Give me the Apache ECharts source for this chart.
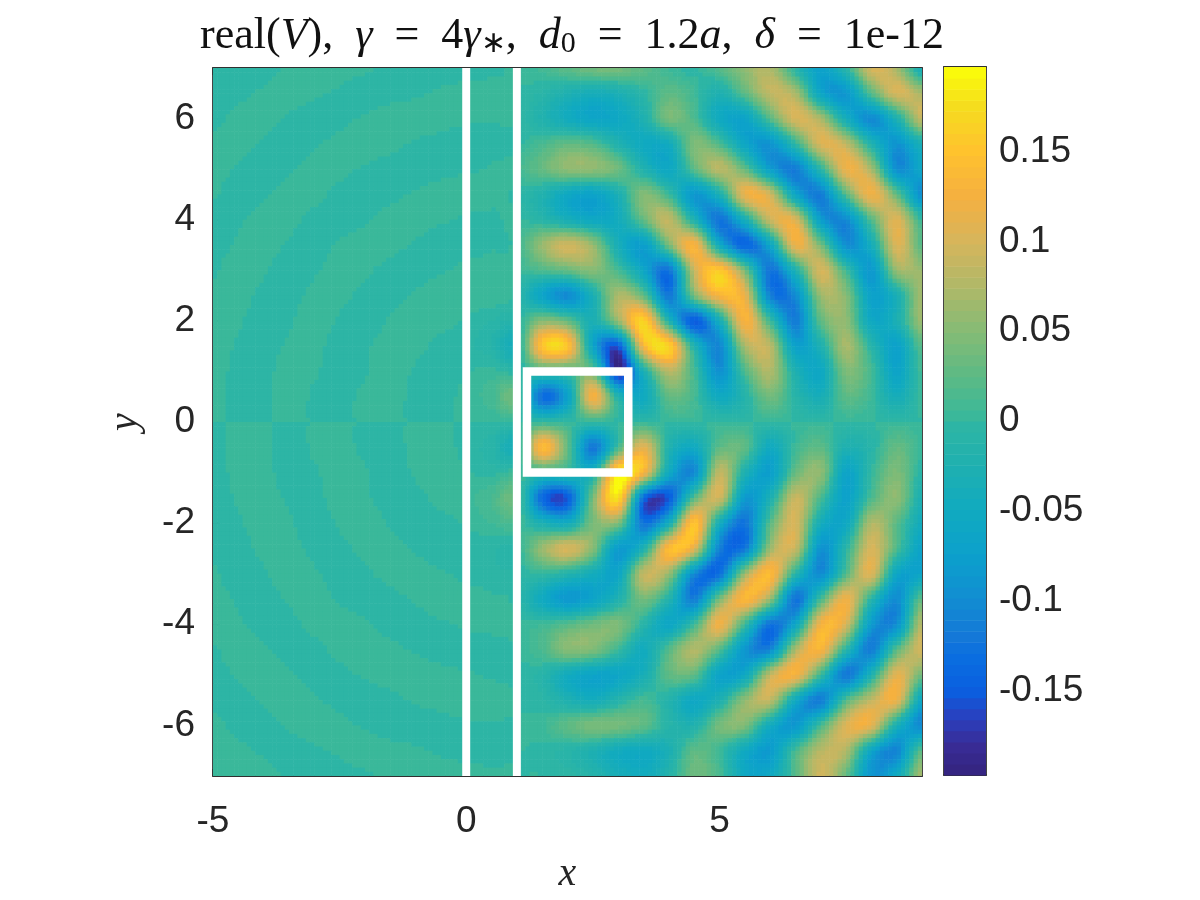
<!DOCTYPE html>
<html><head><meta charset="utf-8">
<style>html,body{margin:0;background:#fff}#c{width:1200px;height:900px}</style>
<script src="https://cdn.jsdelivr.net/npm/echarts@6/dist/echarts.min.js"></script>
</head><body><div id="c"></div>
<script>
// Field values, in thousandths
const xNodes=[-5,-4.5,-4,-3.5,-3,-2.5,-2,-1.5,-1,-0.5,0,0.5,1,1.5,2,2.5,3,3.5,4,4.5,5,5.5,6,6.5,7,7.5,8,8.5,9];
const yNodes=[7,6.5,6,5.5,5,4.5,4,3.5,3,2.5,2,1.5,1,0.5,0,-0.5,-1,-1.5,-2,-2.5,-3,-3.5,-4,-4.5,-5,-5.5,-6,-6.5,-7];
const rowP70=[-5,-5,-3,1,3,3,1,-2,-3,-4,-2,-2,2,8,25,40,42,25,5,-3,20,55,75,-10,-70,-10,100,70,-40];
const rowP65=[-5,-2,1,3,1,-1,-4,-2,-1,1,2,3,0,-8,-25,-38,-30,-5,25,8,-25,25,85,70,-60,-85,20,100,70];
const rowP60=[-2,2,3,-1,-3,-2,1,3,4,2,1,1,0,-20,-45,-62,-55,-25,40,15,-50,-65,20,100,70,-40,-100,-25,90];
const rowP55=[2,3,-1,-4,-1,2,4,2,-1,-2,-4,-4,-2,12,28,18,-20,-50,-45,45,15,-60,-90,-5,100,85,-20,-90,-30];
const rowP50=[3,-1,-4,-1,3,2,-1,-3,-4,-2,-1,1,8,30,55,55,35,-20,-55,20,80,30,-75,-115,-10,115,70,-95,-60];
const rowP45=[1,-4,-1,3,2,-2,-4,-2,1,3,4,3,-3,-20,-55,-68,-30,48,5,-85,-30,115,95,-60,-115,20,120,30,-100];
const rowP40=[-3,-1,3,2,-2,-4,-1,3,3,1,-1,-2,2,-10,-35,-55,-45,30,85,-25,-125,-35,90,105,-75,-100,20,105,0];
const rowP35=[-3,1,3,-1,-4,1,3,2,-1,-4,-3,-1,5,60,95,60,-35,-75,40,130,-50,-140,-60,115,40,-95,-40,105,20];
const rowP30=[-1,4,1,-4,-1,3,1,-2,-3,-1,2,4,3,15,30,50,10,-60,-125,90,155,40,-125,-25,100,5,-85,60,60];
const rowP25=[1,3,-2,-3,2,2,-2,-3,1,4,3,5,-5,-65,-100,-30,70,30,-120,40,130,115,-110,-100,60,50,-70,-30,70];
const rowP20=[3,1,-4,-1,4,-1,-4,1,4,2,-1,-6,-10,50,30,-30,60,165,-20,-150,-40,130,5,-115,25,55,-55,-30,65];
const rowP15=[4,-1,-3,1,2,-3,-1,3,2,-2,-4,-12,-28,150,150,-60,-150,130,165,-20,-105,70,80,-70,-25,70,-10,-70,25];
const rowP10=[3,-2,-2,3,1,-4,-1,4,-1,-5,-1,3,-5,5,10,35,-185,-30,80,10,-95,15,75,-25,-55,45,10,-65,10];
const rowP05=[3,-2,-2,3,-1,-3,2,3,-2,-3,3,10,28,-130,-70,125,-20,-50,30,10,-50,-15,40,-10,-35,25,5,-40,5];
const rowZ00=[0,0,0,0,0,0,0,0,0,0,0,0,0,0,0,0,0,0,0,0,0,0,0,0,0,0,0,0,0];
const rowN05=[-3,2,2,-3,1,3,-2,-3,2,3,-3,-10,-28,140,30,-120,10,110,-20,-50,25,25,-50,5,25,-25,-10,30,3];
const rowN10=[-3,2,2,-3,-1,4,1,-4,1,5,1,-3,5,-5,-10,-30,185,130,-50,-100,85,-25,-75,30,55,-65,0,45,-10];
const rowN15=[-4,1,3,-1,-2,3,1,-3,-2,2,4,12,25,-135,-150,40,175,-130,-150,20,95,-80,-30,90,15,-70,15,55,-30];
const rowN20=[-3,-1,4,1,-4,1,4,-1,-4,-2,1,6,12,-30,-45,40,45,-125,-40,150,-40,-125,20,100,-40,-55,75,25,-45];
const rowN25=[-1,-3,2,3,-2,-2,2,3,-1,-4,-3,-5,-5,60,100,50,-80,-25,140,110,-110,-120,60,90,-90,-10,100,15,-70];
const rowN30=[1,-4,-1,4,1,-3,-1,2,3,1,-2,-4,-5,0,-15,-40,-60,85,60,-100,-130,60,140,-10,-100,20,105,-60,-65];
const rowN35=[3,-1,-3,1,4,-1,-3,-2,1,4,3,1,-5,-50,-85,-65,-25,40,-15,-115,40,135,60,-125,10,120,-10,-100,30];
const rowN40=[3,1,-3,-2,2,4,1,-3,-3,-1,1,2,3,5,20,35,45,-10,-60,5,120,5,-125,-60,125,100,-80,-95,85];
const rowN45=[-1,4,1,-3,-2,2,4,2,-1,-3,-4,-3,0,15,50,45,5,-45,20,75,20,-85,-105,70,130,-10,-115,20,100];
const rowN50=[-3,1,4,1,-3,-2,1,3,4,2,1,-1,-2,-10,-45,-65,-60,-35,25,25,-65,-55,85,125,5,-120,-25,110,35];
const rowN55=[-2,-3,1,4,1,-2,-4,-2,1,2,4,4,0,-5,-25,-40,-15,10,-15,-55,-25,55,85,-50,-115,15,85,115,-60];
const rowN60=[2,-2,-3,1,3,2,-1,-3,-4,-2,-1,-1,0,5,25,42,40,25,-10,-20,40,45,-45,-85,10,105,110,-30,-105];
const rowN65=[5,2,-1,-3,-1,1,4,2,1,-1,-2,-3,0,-2,-10,-25,-45,-50,-30,25,5,-50,-80,10,80,75,-60,-105,25];
const rowN70=[5,5,3,-1,-3,-3,-1,2,3,4,2,2,0,0,-3,-15,-35,-45,-15,35,15,-55,-55,20,95,30,-90,-50,70];
const fieldRows=[rowP70,rowP65,rowP60,rowP55,rowP50,rowP45,rowP40,rowP35,rowP30,rowP25,rowP20,rowP15,rowP10,rowP05,rowZ00,rowN05,rowN10,rowN15,rowN20,rowN25,rowN30,rowN35,rowN40,rowN45,rowN50,rowN55,rowN60,rowN65,rowN70];

const xTicks=[-5,0,5];
const yTicks=[-6,-4,-2,0,2,4,6];
const barTicks=[-0.15,-0.1,-0.05,0,0.05,0.1,0.15];
const wallX=[0,1];
const wallY=[-7,7];
const boxX=[1.2,3.2,3.2,1.2,1.2];
const boxY=[1,1,-1,-1,1];
const valueMin=-197, valueMax=197, levels=64;

// colour map, sampled from the reference colour bar
const mapStops=[[-197,'#34247d'],[-180,'#382c96'],[-165,'#2a3fbe'],[-150,'#0a5fe0'],[-130,'#0a6fe0'],[-120,'#1478d8'],[-100,'#128cd2'],[-75,'#0ca0cc'],[-50,'#10aac0'],[-25,'#1fb0b0'],[-3,'#2db5a5'],[3,'#3ab89a'],[25,'#5cba85'],[50,'#85bb75'],[75,'#b0b868'],[100,'#d6b55c'],[125,'#f5b040'],[150,'#ffc22e'],[175,'#f5dc1e'],[197,'#fbff08']];
function hex(c){return [1,3,5].map(i=>parseInt(c.substr(i,2),16));}
function mapColor(v){
  for(let k=0;k<mapStops.length-1;k++){
    const a=mapStops[k],b=mapStops[k+1];
    if(v<=b[0]){
      const t=Math.max(0,(v-a[0])/(b[0]-a[0])),p=hex(a[1]),q=hex(b[1]);
      return 'rgb('+p.map((u,n)=>Math.round(u+(q[n]-u)*t)).join(',')+')';
    }
  }
  return mapStops[mapStops.length-1][1];
}
const levelStep=(valueMax-valueMin)/levels;
const palette=[];
for(let i=0;i<levels;i++)palette.push(mapColor(valueMin+(i+0.5)*levelStep));
function levelOf(v){return Math.max(0,Math.min(levels-1,Math.floor((v-valueMin)/levelStep)));}

const fieldData=[];
yNodes.forEach((y,j)=>xNodes.forEach((x,i)=>fieldData.push([x,y,fieldRows[j][i],i,j])));
const barData=palette.map((c,i)=>[0,(valueMin+i*levelStep)/1000,i]);

// smooth shading of each read cell, as the source plot was shaded
const shade=6;
function cr(t){const t2=t*t,t3=t2*t;return [-0.5*t3+t2-0.5*t,1.5*t3-2.5*t2+1,-1.5*t3+2*t2+0.5*t,0.5*t3-0.5*t2];}
const weights=[];for(let m=0;m<shade;m++)weights.push(cr((m+0.5)/shade));
function at(j,i){return fieldRows[Math.max(0,Math.min(yNodes.length-1,j))][Math.max(0,Math.min(xNodes.length-1,i))];}
function renderField(params,api){
  const i=api.value(3),j=api.value(4);
  if(i>=xNodes.length-1||j>=yNodes.length-1)return null;
  const x0=xNodes[i],x1=xNodes[i+1],y0=yNodes[j],y1=yNodes[j+1];
  const children=[];
  for(let m=0;m<shade;m++)for(let n=0;n<shade;n++){
    let v=0;
    for(let a=0;a<4;a++)for(let b=0;b<4;b++)v+=weights[n][a]*weights[m][b]*at(j+a-1,i+b-1);
    const p=api.coord([x0+(x1-x0)*m/shade,y0+(y1-y0)*n/shade]);
    const q=api.coord([x0+(x1-x0)*(m+1)/shade,y0+(y1-y0)*(n+1)/shade]);
    children.push({type:'rect',shape:{x:p[0],y:p[1],width:q[0]-p[0]+0.6,height:q[1]-p[1]+0.6},style:{fill:palette[levelOf(v)]},silent:true});
  }
  return {type:'group',children};
}
function renderBar(params,api){
  const lo=api.value(1),k=api.value(2);
  const p=api.coord([0,lo+levelStep/1000]),q=api.coord([1,lo]);
  return {type:'rect',shape:{x:p[0],y:p[1],width:q[0]-p[0],height:q[1]-p[1]+0.6},style:{fill:palette[k]}};
}

const ink='#303030';
const tickFont={color:'#262626',fontFamily:'Liberation Sans',fontSize:37};
const nameFont={color:'#262626',fontFamily:'Liberation Serif',fontStyle:'italic',fontSize:40};
const axisLine={show:true,onZero:false,lineStyle:{color:ink,width:1.8}};
const serif={fontFamily:'Liberation Serif',fontWeight:'normal',fontSize:44,color:'#111',lineHeight:50};
const chart=echarts.init(document.getElementById('c'),null,{renderer:'canvas'});
chart.setOption({
  animation:false,
  backgroundColor:'#fff',
  title:{
    text:'{r|real(}{i|V}{r|),  }{i|γ}{r|  =  4}{i|γ}{s|∗}{r|,  }{i|d}{s|0}{r|  =  1.2}{i|a}{r|,  }{i|δ}{r|  =  1e-12}',
    left:567,top:6,textAlign:'center',
    textStyle:{fontWeight:'normal',rich:{r:serif,i:Object.assign({},serif,{fontStyle:'italic'}),s:Object.assign({},serif,{fontSize:30,lineHeight:null,padding:[16,0,0,0]})}}
  },
  grid:[
    {left:213,top:68,width:709,height:708,show:false},
    {left:944,top:67,width:42,height:708,show:false}
  ],
  xAxis:[
    {type:'value',gridIndex:0,min:-5,max:9,position:'bottom',name:'x',nameLocation:'middle',nameGap:78,nameTextStyle:nameFont,axisLine,splitLine:{show:false},
     axisTick:{show:true,inside:true,length:7,customValues:xTicks,lineStyle:{color:ink,width:1.5}},axisLabel:{customValues:xTicks,margin:27,...tickFont}},
    {type:'value',gridIndex:0,min:-5,max:9,position:'top',axisLine,splitLine:{show:false},
     axisTick:{show:true,inside:true,length:7,customValues:xTicks,lineStyle:{color:ink,width:1.5}},axisLabel:{show:false}},
    {type:'value',gridIndex:1,min:0,max:1,position:'bottom',axisLine,splitLine:{show:false},axisTick:{show:false},axisLabel:{show:false}},
    {type:'value',gridIndex:1,min:0,max:1,position:'top',axisLine,splitLine:{show:false},axisTick:{show:false},axisLabel:{show:false}}
  ],
  yAxis:[
    {type:'value',gridIndex:0,min:-7,max:7,position:'left',name:'y',nameLocation:'middle',nameGap:68,nameRotate:90,nameTextStyle:nameFont,axisLine,splitLine:{show:false},
     axisTick:{show:true,inside:true,length:7,customValues:yTicks,lineStyle:{color:ink,width:1.5}},axisLabel:{customValues:yTicks,margin:18,padding:[10,0,0,0],...tickFont}},
    {type:'value',gridIndex:0,min:-7,max:7,position:'right',axisLine,splitLine:{show:false},
     axisTick:{show:true,inside:true,length:7,customValues:yTicks,lineStyle:{color:ink,width:1.5}},axisLabel:{show:false}},
    {type:'value',gridIndex:1,min:valueMin/1000,max:valueMax/1000,position:'left',axisLine,splitLine:{show:false},axisTick:{show:false},axisLabel:{show:false}},
    {type:'value',gridIndex:1,min:valueMin/1000,max:valueMax/1000,position:'right',axisLine,splitLine:{show:false},
     axisTick:{show:true,inside:true,length:8,customValues:barTicks,lineStyle:{color:ink,width:1.5}},axisLabel:{customValues:barTicks,margin:13,padding:[10,0,0,0],formatter:v=>String(v),...tickFont}}
  ],
  series:[
    {type:'custom',xAxisIndex:0,yAxisIndex:0,coordinateSystem:'cartesian2d',clip:true,silent:true,z:1,progressive:0,renderItem:renderField,data:fieldData,encode:{x:0,y:1}},
    {type:'line',xAxisIndex:0,yAxisIndex:0,z:3,symbol:'none',silent:true,lineStyle:{color:'#fff',width:8},data:wallY.map(y=>[wallX[0],y])},
    {type:'line',xAxisIndex:0,yAxisIndex:0,z:3,symbol:'none',silent:true,lineStyle:{color:'#fff',width:8},data:wallY.map(y=>[wallX[1],y])},
    {type:'line',xAxisIndex:0,yAxisIndex:0,z:3,symbol:'none',silent:true,lineStyle:{color:'#fff',width:8.5,cap:'square',join:'miter'},data:boxX.map((x,i)=>[x,boxY[i]])},
    {type:'custom',xAxisIndex:2,yAxisIndex:3,coordinateSystem:'cartesian2d',silent:true,z:1,renderItem:renderBar,data:barData,encode:{x:0,y:1}}
  ]
});
</script></body></html>
